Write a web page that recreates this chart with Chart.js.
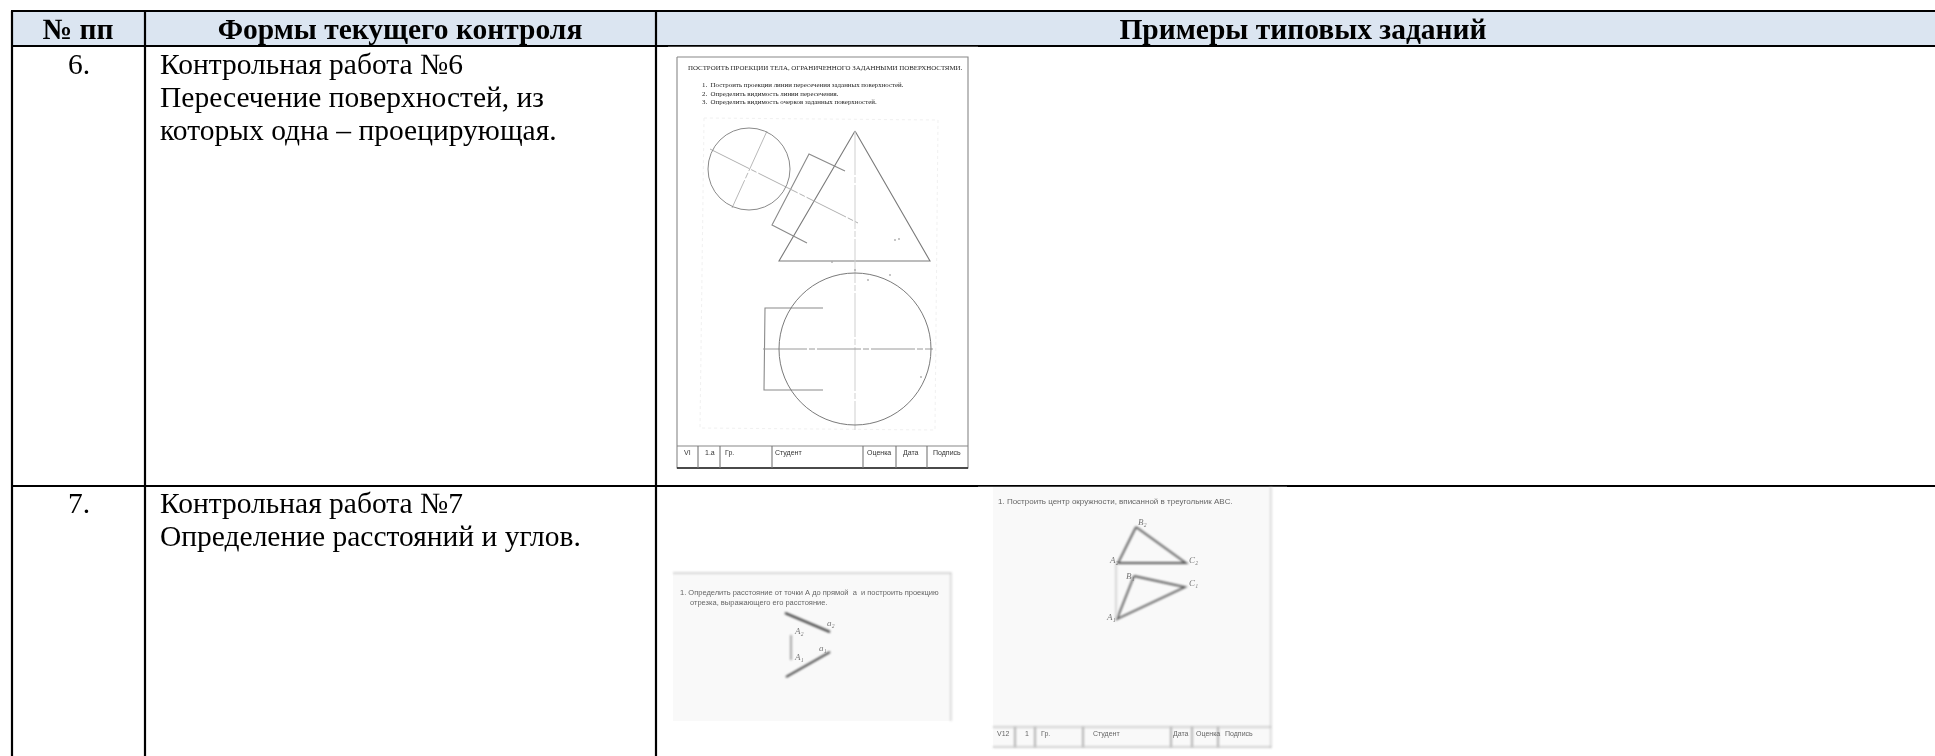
<!DOCTYPE html>
<html lang="ru">
<head>
<meta charset="utf-8">
<title>Формы текущего контроля</title>
<script src="https://cdn.jsdelivr.net/npm/chart.js@4/dist/chart.umd.min.js"></script>
<style>
  html, body { margin: 0; padding: 0; background: #fff; overflow: hidden; }
  canvas { display: block; }
</style>
</head>
<body>
<canvas id="sheet" width="1935" height="756"></canvas>
<script>
// table grid
const columnEdges = [12, 145, 656];
const rowEdges = [11, 46, 486];
const tableRight = 1935;
const tableBottom = 756;

const headerLabels = ["№ пп", "Формы текущего контроля", "Примеры типовых заданий"];
const headerCenters = [78, 400, 1303];
const rowNumbers = ["6.", "7."];
const rowTexts = [
  ["Контрольная работа №6", "Пересечение поверхностей, из", "которых одна – проецирующая."],
  ["Контрольная работа №7", "Определение расстояний и углов."]
];

// first scan: intersection task
const scan1Frame = [[677, 57], [968, 57], [968, 468], [677, 468], [677, 57]];
const scan1Footer = [[677, 446], [968, 446]];
const scan1FooterCols = [698, 720, 772, 863, 896, 927];
const scan1FooterLabels = ["VI", "1.а", "Гр.", "Студент", "Оценка", "Дата", "Подпись"];
const scan1FooterLabelX = [684, 705, 725, 775, 867, 903, 933];
const scan1Title = "ПОСТРОИТЬ ПРОЕКЦИИ ТЕЛА, ОГРАНИЧЕННОГО ЗАДАННЫМИ ПОВЕРХНОСТЯМИ.";
const scan1Items = [
  "1.  Построить проекции линии пересечения заданных поверхностей.",
  "2.  Определить видимость линии пересечения.",
  "3.  Определить видимость очерков заданных поверхностей."
];
const scan1Circles = [{ x: 749, y: 169 }, { x: 855, y: 349 }];
const scan1Triangle = [[855, 131], [779, 261], [930, 261], [855, 131]];
const scan1Prism = [[845, 171], [809, 154], [772, 225], [807, 243]];
const scan1PrismTop = [[823, 308], [765, 308], [764, 390], [823, 390]];
const scan1AxisSlant = [[710, 149], [858, 223]];
const scan1AxisCross = [[767, 131], [732, 208]];
const scan1AxisVertical = [[855, 131], [855, 430]];
const scan1AxisLevel = [[763, 349], [933, 349]];
const scan1Specks = [[895, 240], [899, 239], [832, 262], [855, 270], [890, 275], [921, 377], [868, 280]];
const scan1Faint = [[704, 118], [938, 120], [935, 430], [700, 428], [704, 118]];

// second scan: distance from a point to a line
const scan2Box = [[673, 573], [951, 573]];
const scan2BoxBottom = 721;
const scan2Edge = [[673, 573], [951, 573], [951, 721]];
const scan2Text = [
  "1. Определить расстояние от точки А до прямой  а  и построить проекцию",
  "отрезка, выражающего его расстояние."
];
const scan2LineUpper = [[785, 613], [830, 632]];
const scan2LineLower = [[786, 677], [830, 652]];
const scan2Drop = [[791, 635], [791, 660]];
const scan2Marks = ["A₂", "a₂", "A₁", "a₁"];
const scan2MarkAnchors = [[795, 634], [827, 626], [795, 660], [819, 651]];

// third scan: centre of the inscribed circle
const scan3Box = [[993, 487], [1271, 487]];
const scan3BoxBottom = 748;
const scan3Edge = [[1271, 487], [1271, 748]];
const scan3Title = "1. Построить центр окружности, вписанной в треугольник ABC.";
const scan3Upper = [[1136, 527], [1118, 563], [1186, 563], [1136, 527]];
const scan3Lower = [[1134, 576], [1185, 587], [1117, 619], [1134, 576]];
const scan3Drop = [[1116, 563], [1116, 619]];
const scan3Footer = [[993, 727], [1271, 727]];
const scan3FooterBase = [[993, 747], [1271, 747]];
const scan3FooterCols = [1015, 1035, 1083, 1171, 1192, 1218];
const scan3FooterLabels = ["V12", "1", "Гр.", "Студент", "Дата", "Оценка", "Подпись"];
const scan3FooterLabelX = [997, 1025, 1041, 1093, 1173, 1196, 1225];
const scan3Marks = ["B₂", "A₂", "C₂", "B₁", "C₁", "A₁"];
const scan3MarkAnchors = [[1138, 525], [1110, 563], [1189, 563], [1126, 579], [1189, 586], [1107, 620]];

const asPoints = (pairs) => pairs.map(([x, y]) => ({ x, y }));

// later entries paint over earlier ones
const layers = [];

function addLine(pairs, color, width, extra = {}) {
  layers.push({
    data: asPoints(pairs),
    showLine: true,
    borderColor: color,
    borderWidth: width,
    pointRadius: 0,
    tension: 0,
    fill: false,
    ...extra
  });
}

function addBand(pairs, bottom, color) {
  layers.push({
    data: asPoints(pairs),
    showLine: true,
    borderWidth: 0,
    pointRadius: 0,
    backgroundColor: color,
    fill: { target: { value: bottom }, above: color, below: color }
  });
}

function addRing(center, radius, color, width) {
  layers.push({
    data: [center],
    pointRadius: radius,
    pointBorderWidth: width,
    pointBorderColor: color,
    pointBackgroundColor: "rgba(0,0,0,0)"
  });
}

function addCols(columns, top, bottom, color, width, extra) {
  columns.forEach((x) => addLine([[x, top], [x, bottom]], color, width, extra));
}

// table
addBand([[columnEdges[0], rowEdges[0]], [tableRight, rowEdges[0]]], rowEdges[1], "#dbe5f1");
rowEdges.forEach((y) => addLine([[columnEdges[0] - 1, y], [tableRight, y]], "#000", 2.2));
addCols(columnEdges, rowEdges[0], tableBottom, "#000", 2.2);

// scans sit on white boxes that nibble the rules a little
addBand([[668, 46.5], [978, 46.5]], 484, "#fff");
addLine([[668, 46], [978, 46]], "#000", 1);
addBand([[978, 486.5], [1287, 486.5]], 756, "#fff");
addLine([[978, 486], [1287, 486]], "#000", 1);

const soft = { blur: 0.5 };
const axis = { blur: 0.5, borderDash: [44, 2, 6, 2] };
addLine(scan1Faint, "#f1f1f1", 1, { borderDash: [3, 3] });
addLine(scan1Frame, "#888", 1.1, soft);
addLine(scan1Footer, "#888", 1.1, soft);
addLine([[677, 468], [968, 468]], "#222", 1.4, soft);
addCols(scan1FooterCols, 446, 468, "#777", 1.1, soft);
addLine(scan1Triangle, "#7a7a7a", 1.1, soft);
addLine(scan1Prism, "#8a8a8a", 1.1, soft);
addLine(scan1PrismTop, "#8a8a8a", 1.1, soft);
addLine(scan1AxisSlant, "#b0b0b0", 1, axis);
addLine(scan1AxisCross, "#b8b8b8", 1, axis);
addLine(scan1AxisVertical, "#cfcfcf", 1, axis);
addLine(scan1AxisLevel, "#9a9a9a", 1, axis);
addRing(scan1Circles[0], 41, "#8a8a8a", 1);
addRing(scan1Circles[1], 76, "#7a7a7a", 1);
layers.push({ data: asPoints(scan1Specks), pointRadius: 0.9, pointBackgroundColor: "#aaa", pointBorderWidth: 0 });

const blurred = { blur: 0.8 };
addBand(scan2Box, scan2BoxBottom, "#f9f9f9");
addLine(scan2Edge, "#cccccc", 1.3, blurred);
addLine(scan2LineUpper, "#333", 2, blurred);
addLine(scan2LineLower, "#333", 2, blurred);
addLine(scan2Drop, "#999", 1, blurred);

addBand(scan3Box, scan3BoxBottom, "#f9f9f9");
addLine(scan3Edge, "#cccccc", 1.3, blurred);
addLine(scan3Upper, "#555", 1.8, blurred);
addLine(scan3Lower, "#555", 1.8, blurred);
addLine(scan3Drop, "#d0d0d0", 1, blurred);
addLine(scan3Footer, "#aaa", 1, blurred);
addLine(scan3FooterBase, "#aaa", 1, blurred);
addCols(scan3FooterCols, 727, 747, "#aaa", 1, blurred);

const serif = '"Liberation Serif"';
const sans = '"Liberation Sans"';

function buildLabels() {
  const labels = [];
  const put = (text, x, y, font, color, align = "left", blur = 0) =>
    labels.push({ text, x, y, font, color, align, blur });

  headerLabels.forEach((text, i) => put(text, headerCenters[i], 39, `bold 29.5px ${serif}`, "#000", "center"));

  const rowLines = [[74, 107, 140], [513, 546]];
  rowNumbers.forEach((text, i) => put(text, 79, rowLines[i][0], `29.5px ${serif}`, "#000", "center"));
  rowTexts.forEach((lines, i) =>
    lines.forEach((text, j) => put(text, 160, rowLines[i][j], `29.5px ${serif}`, "#000"))
  );

  put(scan1Title, 688, 70, `6.9px ${serif}`, "#222", "left", 0.3);
  scan1Items.forEach((text, i) => put(text, 702, 87 + i * 8.7, `6.9px ${serif}`, "#222", "left", 0.3));
  scan1FooterLabels.forEach((text, i) => put(text, scan1FooterLabelX[i], 455, `7px ${sans}`, "#333", "left", 0.3));

  scan2Text.forEach((text, i) => put(text, i ? 690 : 680, 595 + i * 10, `7.5px ${sans}`, "#666", "left", 0.7));
  scan2Marks.forEach((text, i) =>
    put(text, scan2MarkAnchors[i][0], scan2MarkAnchors[i][1], `italic 9px ${serif}`, "#777", "left", 0.7)
  );

  put(scan3Title, 998, 504, `8px ${sans}`, "#666", "left", 0.7);
  scan3FooterLabels.forEach((text, i) => put(text, scan3FooterLabelX[i], 736, `7px ${sans}`, "#666", "left", 0.7));
  scan3Marks.forEach((text, i) =>
    put(text, scan3MarkAnchors[i][0], scan3MarkAnchors[i][1], `italic 9px ${serif}`, "#777", "left", 0.7)
  );
  return labels;
}

const softEdges = {
  id: "softEdges",
  beforeDatasetDraw(chart, args) {
    const blur = chart.data.datasets[args.index].blur;
    if (blur) {
      chart.ctx.save();
      chart.ctx.filter = `blur(${blur}px)`;
    }
  },
  afterDatasetDraw(chart, args) {
    if (chart.data.datasets[args.index].blur) {
      chart.ctx.restore();
    }
  }
};

const sheetText = {
  id: "sheetText",
  afterDatasetsDraw(chart) {
    const { ctx, scales } = chart;
    buildLabels().forEach((label) => {
      ctx.save();
      ctx.font = label.font;
      ctx.fillStyle = label.color;
      ctx.textAlign = label.align;
      ctx.textBaseline = "alphabetic";
      if (label.blur) ctx.filter = `blur(${label.blur}px)`;
      ctx.fillText(label.text, scales.x.getPixelForValue(label.x), scales.y.getPixelForValue(label.y));
      ctx.restore();
    });
  }
};

new Chart(document.getElementById("sheet"), {
  type: "scatter",
  data: { datasets: layers.slice().reverse() },
  options: {
    responsive: false,
    animation: false,
    layout: { padding: 0, autoPadding: false },
    plugins: { legend: { display: false }, tooltip: { enabled: false } },
    scales: {
      x: { type: "linear", display: false, min: 0, max: 1935 },
      y: { type: "linear", display: false, min: 0, max: 756, reverse: true }
    }
  },
  plugins: [softEdges, sheetText]
});
</script>
</body>
</html>
